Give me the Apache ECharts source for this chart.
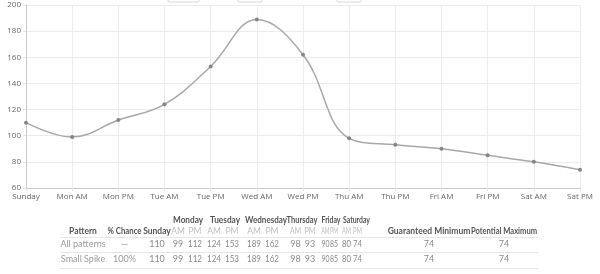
<!DOCTYPE html>
<html>
<head>
<meta charset="utf-8">
<script src="https://cdn.jsdelivr.net/npm/echarts@6/dist/echarts.min.js"></script>
<style>
html,body{margin:0;padding:0;background:#fff;}
#c{width:600px;height:274px;}
</style>
</head>
<body>
<div id="c"></div>
<script>
// ---- data ----
const categories = ['Sunday','Mon AM','Mon PM','Tue AM','Tue PM','Wed AM','Wed PM','Thu AM','Thu PM','Fri AM','Fri PM','Sat AM','Sat PM'];
const prices = [110, 99, 112, 124, 153, 189, 162, 98, 93, 90, 85, 80, 74];
const yTicks = [60, 80, 100, 120, 140, 160, 180, 200];
const dayHeaders = ['Monday','Tuesday','Wednesday','Thursday','Friday','Saturday'];
const halfHeaders = ['AM','PM','AM','PM','AM','PM','AM','PM','AM','PM','AM','PM'];
const tableHeaders = ['Pattern','% Chance','Sunday','Guaranteed Minimum','Potential Maximum'];
const rowNames = ['All patterns','Small Spike'];
const rowChance = ['\u2014','100%'];
const rowPrices = [
  [110, 99, 112, 124, 153, 189, 162, 98, 93, 90, 85, 80, 74],
  [110, 99, 112, 124, 153, 189, 162, 98, 93, 90, 85, 80, 74]
];
const rowMin = [74, 74];
const rowMax = [74, 74];

// ---- layout ----
const FONT = 'Lato, sans-serif';
const AXFONT = '"Open Sans", sans-serif';
const colPattern = 83, colChance = 124.5, colSunday = 157;
const halfX = [178, 195, 214, 232, 254, 272, 295.5, 310, 325.5, 334, 346.5, 357.5];
const halfW = [14, 14, 14, 14, 14, 14, 11, 11, 8, 8, 9, 9];
const dayX = [188, 225, 266, 302, 331, 356.5];
const dayW = [30, 30, 42, 31, 19, 27];
const colMin = 429, colMax = 504;
const yDay = 220, yHead = 231, yRows = [244, 259];

const mctx = document.createElement('canvas').getContext('2d');
const g = [];
function txt(s, x, y, color, weight, size, maxW) {
  const font = (weight||'normal')+' '+(size||9)+'px '+FONT;
  mctx.font = font;
  const w = mctx.measureText(String(s)).width;
  const sx = (maxW && w > maxW) ? maxW / w : 1;
  g.push({type:'text', x:x, y:y, scaleX:sx, style:{text:String(s), x:0, y:0, textAlign:'center', textVerticalAlign:'middle',
    fill:color, font:font}});
}
function hline(y) {
  g.push({type:'line', shape:{x1:60, y1:y, x2:538, y2:y}, style:{stroke:'#e6e6e6', lineWidth:1}});
}
// legend tabs cut off at top
[[168,199],[238,262],[337,361]].forEach(function(p){
  g.push({type:'rect', shape:{x:p[0], y:-4, width:p[1]-p[0], height:6, r:1}, style:{fill:'#fff', stroke:'#d8d8d8', lineWidth:1}});
});
hline(237.5); hline(252.5); hline(268.5);
dayHeaders.forEach(function(d,i){ txt(d, dayX[i], yDay, '#555', 'bold', 8.5, dayW[i]); });
txt(tableHeaders[0], colPattern, yHead, '#555', 'bold', 8.5, 29);
txt(tableHeaders[1], colChance, yHead, '#555', 'bold', 8.5, 34);
txt(tableHeaders[2], colSunday, yHead, '#555', 'bold', 8.5, 28);
halfHeaders.forEach(function(h,i){ txt(h, halfX[i], yHead, '#bdbdbd', 'normal', 8.5, halfW[i]); });
txt(tableHeaders[3], colMin, yHead, '#555', 'bold', 8.5, 84);
txt(tableHeaders[4], colMax, yHead, '#555', 'bold', 8.5, 66);
rowNames.forEach(function(n, r){
  const y = yRows[r];
  txt(n, colPattern, y, '#9a9a9a');
  txt(rowChance[r], colChance, y, '#9a9a9a');
  txt(rowPrices[r][0], colSunday, y, '#8a8a8a');
  for (let i = 1; i < rowPrices[r].length; i++) txt(rowPrices[r][i], halfX[i-1], y, '#8a8a8a', 'normal', 9, halfW[i-1]);
  txt(rowMin[r], colMin, y, '#8a8a8a');
  txt(rowMax[r], colMax, y, '#8a8a8a');
});

const chart = echarts.init(document.getElementById('c'), null, {renderer:'canvas'});
chart.setOption({
  animation:false,
  grid:{left:26, right:20, top:5, height:183, containLabel:false},
  xAxis:{
    type:'category', data:categories, boundaryGap:false,
    axisLine:{lineStyle:{color:'#c8c8c8'}},
    axisTick:{show:true, alignWithLabel:true, length:3, lineStyle:{color:'#e3e3e3'}},
    axisLabel:{color:'#666', fontSize:8, fontFamily:AXFONT, margin:5, interval:0},
    splitLine:{show:true, lineStyle:{color:'#ececec'}}
  },
  yAxis:{
    type:'value', min:yTicks[0], max:yTicks[yTicks.length-1], interval:20,
    axisLine:{show:true, lineStyle:{color:'#c8c8c8'}},
    axisTick:{show:true, length:3, lineStyle:{color:'#e3e3e3'}},
    axisLabel:{color:'#666', fontSize:8, fontFamily:AXFONT, margin:5},
    splitLine:{show:true, lineStyle:{color:'#ececec'}}
  },
  series:[{
    type:'line', data:prices, smooth:0.4,
    symbol:'circle', symbolSize:4,
    lineStyle:{color:'#a8a8a8', width:1.5},
    itemStyle:{color:'#858585'}
  }],
  graphic:g
});
</script>
</body>
</html>
